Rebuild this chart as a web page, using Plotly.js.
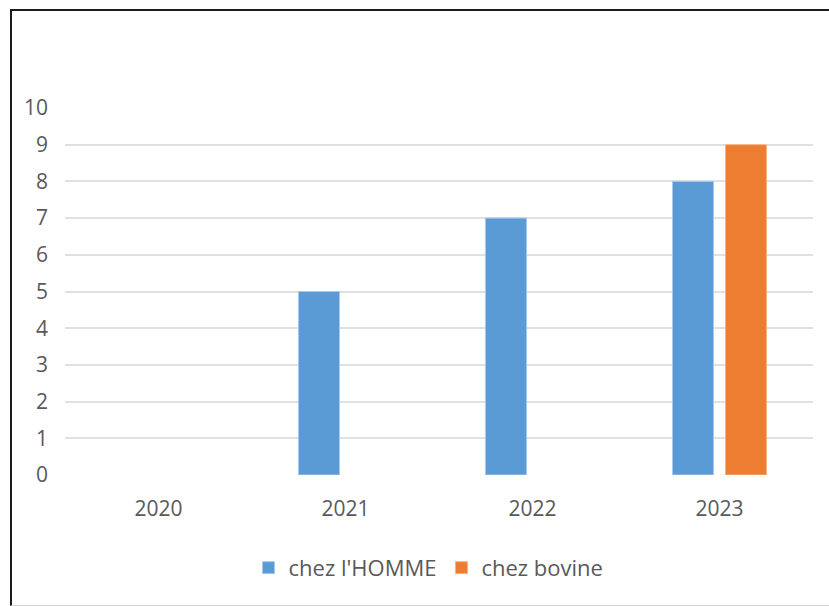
<!DOCTYPE html>
<html>
<head>
<meta charset="utf-8">
<script src="https://cdn.plot.ly/plotly-3.0.1.min.js"></script>
<style>
  html, body { margin: 0; padding: 0; background: #ffffff; overflow: hidden; }
  #chart { position: absolute; left: 0; top: 0; width: 829px; height: 606px; }
  #frame {
    position: absolute; left: 10px; top: 9px; width: 840px; height: 597px;
    box-sizing: border-box;
    border-left: 2px solid #1c1c1c;
    border-top: 2px solid #1c1c1c;
    border-bottom: 1px solid #d4d4d4;
    pointer-events: none;
  }
</style>
</head>
<body>
<div id="chart"></div>
<div id="frame"></div>
<script>
// Years on the category axis
const years = ['2020', '2021', '2022', '2023'];

// Counts per year
const chezHomme = [null, 5, 7, 8];
const chezBovine = [null, null, null, 9];

// Value axis ticks
const yTicks = [0, 1, 2, 3, 4, 5, 6, 7, 8, 9, 10];

const labelFont = { family: '"Open Sans", "Liberation Sans", sans-serif', size: 21, color: '#595959' };
const legendFont = { family: '"Open Sans", "Liberation Sans", sans-serif', size: 22, color: '#595959' };

const traces = [
  {
    type: 'bar', name: "chez l'HOMME", x: years, y: chezHomme,
    marker: { color: '#5B9BD5', line: { color: '#a9c9ea', width: 1 } }
  },
  {
    type: 'bar', name: 'chez bovine', x: years, y: chezBovine,
    marker: { color: '#ED7D31', line: { color: '#f4b48a', width: 1 } }
  }
];

const layout = {
  width: 829, height: 606,
  margin: { l: 65, r: 16, t: 108, b: 131 },
  paper_bgcolor: '#ffffff', plot_bgcolor: '#ffffff',
  barmode: 'group', bargap: 0.433, bargroupgap: 0.226,
  font: labelFont,
  showlegend: true,
  legend: {
    orientation: 'h', x: 0.486, xanchor: 'center', y: -0.253, yanchor: 'middle',
    font: legendFont, itemwidth: 30, tracegroupgap: 0
  },
  xaxis: {
    type: 'category', showgrid: false, zeroline: false, showline: false,
    ticks: '', ticklabelstandoff: 19, tickfont: labelFont
  },
  yaxis: {
    range: [0, 10], tickvals: yTicks, ticktext: yTicks.map(String),
    showgrid: true, gridcolor: '#e0e0e0', gridwidth: 2,
    zeroline: false, showline: false, ticks: '', ticklabelstandoff: 16,
    tickfont: labelFont
  }
};

Plotly.newPlot('chart', traces, layout, { displayModeBar: false, staticPlot: true });
</script>
</body>
</html>
